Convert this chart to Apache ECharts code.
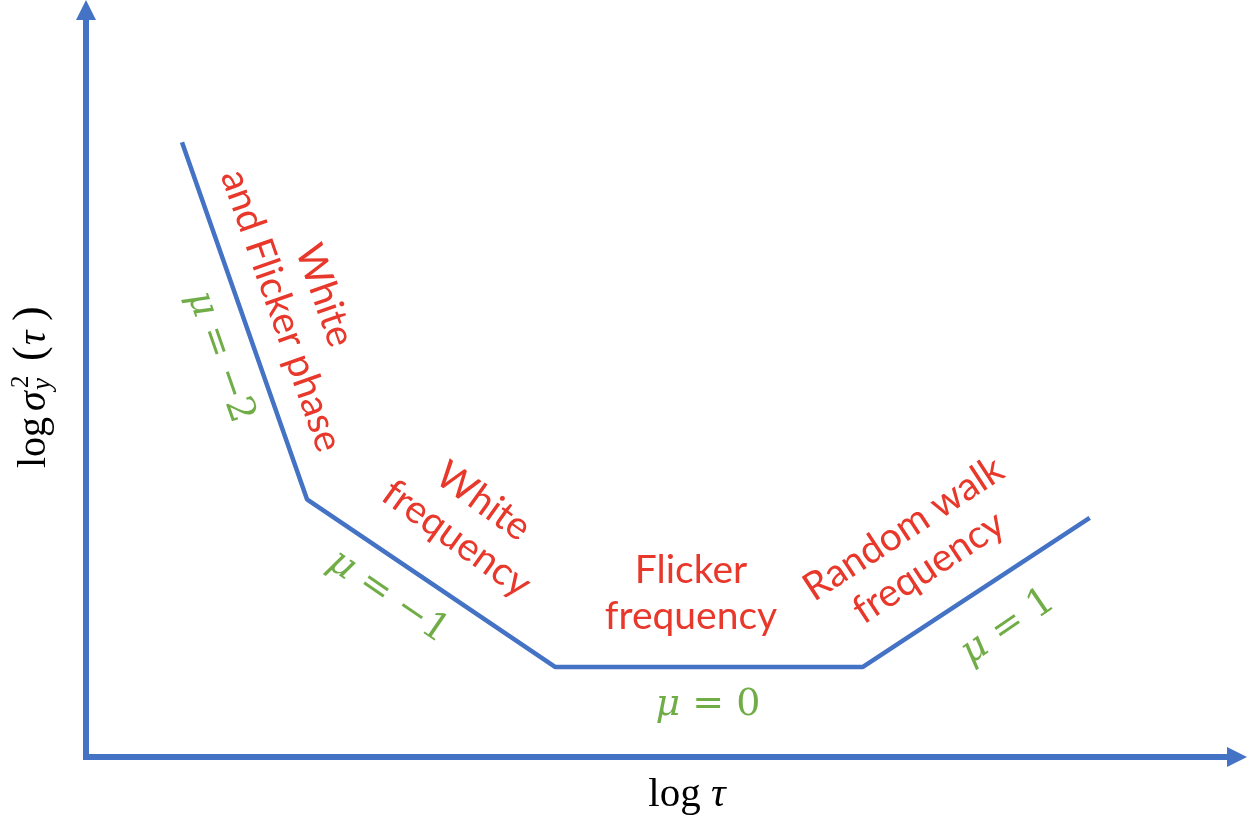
<!DOCTYPE html>
<html>
<head>
<meta charset="utf-8">
<script src="https://cdn.jsdelivr.net/npm/echarts@6/dist/echarts.min.js"></script>
<style>html,body{margin:0;padding:0;background:#fff}#c{width:1253px;height:824px}</style>
</head>
<body>
<div id="c"></div>
<script>
// Breakpoints of the Allan-variance sketch (axis units 0..100)
const logTau = [8.34, 19.2, 40.75, 67.5, 87.2];
const logSigma = [82.3, 34.5, 12.05, 12.05, 32.0];
const regionNames = ['White\nand Flicker phase', 'White\nfrequency', 'Flicker\nfrequency', 'Random walk\nfrequency'];
const muLabels = ['\u22122', '\u22121', '0', '1'];
const xName = 'log';
const yName = 'log';

const BLUE = '#4472C4', RED = '#E8382B', GREEN = '#70AD47';
const chart = echarts.init(document.getElementById('c'), null, {renderer: 'canvas'});

const axisCommon = {
  type: 'value', min: 0, max: 100,
  axisTick: {show: false}, axisLabel: {show: false}, splitLine: {show: false},
  axisLine: {show: true, symbol: ['none', 'triangle'], symbolSize: [20, 20],
    lineStyle: {color: BLUE, width: 6, cap: 'square'}}
};

function redText(txt, x, y, rot) {
  return {type: 'text', x: x, y: y, rotation: rot, silent: true,
    style: {text: txt, fill: RED, font: '39px Lato', textAlign: 'center', textVerticalAlign: 'middle', lineHeight: 46}};
}
function muText(val, x, y, rot) {
  return {type: 'text', x: x, y: y, rotation: rot, silent: true,
    style: {text: '{i|\u03bc} = ' + val, fill: GREEN, font: '38px "DejaVu Serif"', textAlign: 'center', textVerticalAlign: 'middle',
      rich: {i: {fontStyle: 'italic', fontSize: 38, fontFamily: 'DejaVu Serif', fill: GREEN}}}};
}

const serif = '"Liberation Serif"';
function yPart(txt, x, y, font) {
  return {type: 'text', x: x, y: y, style: {text: txt, fill: '#000', font: font, textAlign: 'left', textVerticalAlign: 'middle'}};
}
chart.setOption({
  animation: false,
  backgroundColor: '#fff',
  grid: {left: 86, right: 16, top: 10, bottom: 67},
  xAxis: Object.assign({}, axisCommon),
  yAxis: Object.assign({}, axisCommon),
  series: [{
    type: 'line', data: logTau.map((v, i) => [v, logSigma[i]]),
    symbol: 'none', lineStyle: {color: BLUE, width: 4.5}
  }],
  graphic: [
    redText(regionNames[0], 303, 303, -1.234),
    muText(muLabels[0], 220, 357, -1.234),
    redText(regionNames[1], 470, 520, -0.62),
    muText(muLabels[1], 388, 597, -0.6),
    redText(regionNames[2], 691, 593, 0),
    muText(muLabels[2], 708, 705, 0),
    redText(regionNames[3], 916, 548, 0.58),
    muText(muLabels[3], 1008, 627, 0.6),
    {type: 'text', x: 687, y: 795, silent: true,
      style: {text: xName + ' {i|\u03c4}', fill: '#000', font: '41px ' + serif, textAlign: 'center', textVerticalAlign: 'middle',
        rich: {i: {fontStyle: 'italic', fontSize: 41, fontFamily: 'Liberation Serif', fill: '#000'}}}},
    {type: 'group', x: 34, y: 385, rotation: Math.PI / 2, silent: true, children: [
      yPart(yName, -83, 0, '40px ' + serif),
      yPart('\u03c3', -26, 0, 'italic 40px ' + serif),
      yPart('2', -3, -13, '25px ' + serif),
      yPart('y', -5, 9, 'italic 27px ' + serif),
      yPart('(', 24, -3, '44px ' + serif),
      yPart('\u03c4', 40, 0, 'italic 40px ' + serif),
      yPart(')', 64, -3, '44px ' + serif)
    ]}
  ]
});
</script>
</body>
</html>
